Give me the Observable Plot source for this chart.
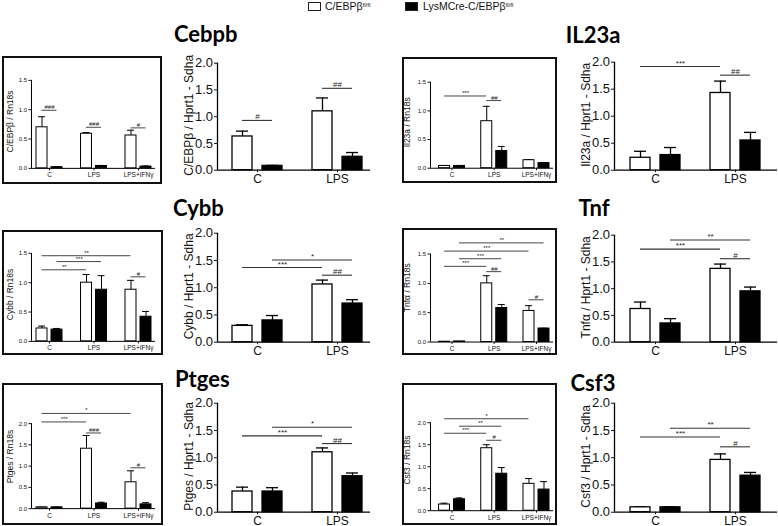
<!DOCTYPE html>
<html><head><meta charset="utf-8">
<script src="https://cdn.jsdelivr.net/npm/d3@7"></script>
<script src="https://cdn.jsdelivr.net/npm/@observablehq/plot@0.6"></script>
<style>
body{margin:0;background:#fff;}
#root{position:relative;width:778px;height:526px;overflow:hidden;font-family:"Liberation Sans",Arial,sans-serif;background:#fff;}
.title{position:absolute;font-family:Lato,"Open Sans",sans-serif;font-weight:700;font-size:22px;line-height:22px;white-space:nowrap;color:#000;}
.box{position:absolute;border:2px solid #111;box-sizing:border-box;}
.leg{position:absolute;font-size:10.5px;line-height:12px;white-space:nowrap;color:#111;}
.leg sup{font-size:6px;vertical-align:top;position:relative;top:-1px;}
.sw{position:absolute;width:13px;height:9px;box-sizing:border-box;border:1px solid #222;}
</style></head><body><div id="root"></div><script>
// ---------- data ----------
const groups3 = ["C", "LPS", "LPS+IFNγ"];
const groups2 = ["C", "LPS"];
const genotypes = ["C/EBPβ", "LysMCre-C/EBPβ"];
const ticksSmall15 = [0, 0.5, 1.0, 1.5];
const ticksSmall20 = [0, 0.5, 1.0, 1.5, 2.0];
const ticksLarge = [0, 0.5, 1.0, 1.5, 2.0];

// Cebpb
const cebpbRnWt = [0.70, 0.59, 0.56], cebpbRnWtErr = [0.18, 0.02, 0.09];
const cebpbRnKo = [0.02, 0.04, 0.03], cebpbRnKoErr = [0.005, 0.01, 0.01];
const cebpbRnSig = [{a:[0,0], b:[0,1], y:0.99, label:"###"}, {a:[1,0], b:[1,1], y:0.70, label:"###"}, {a:[2,0], b:[2,1], y:0.69, label:"#"}];
const cebpbHsWt = [0.63, 1.10], cebpbHsWtErr = [0.10, 0.25];
const cebpbHsKo = [0.08, 0.25], cebpbHsKoErr = [0.01, 0.08];
const cebpbHsSig = [{a:[0,0], b:[0,1], y:0.93, label:"#"}, {a:[1,0], b:[1,1], y:1.53, label:"##"}];

// Il23a
const il23RnWt = [0.04, 0.82, 0.14], il23RnWtErr = [0.005, 0.26, 0.01];
const il23RnKo = [0.04, 0.30, 0.09], il23RnKoErr = [0.005, 0.08, 0.005];
const il23RnSig = [{a:[0,0], b:[1,0], y:1.26, label:"***"}, {a:[1,0], b:[1,1], y:1.18, label:"##"}];
const il23HsWt = [0.23, 1.43], il23HsWtErr = [0.12, 0.22];
const il23HsKo = [0.28, 0.55], il23HsKoErr = [0.14, 0.15];
const il23HsSig = [{a:[0,0], b:[1,0], y:1.92, label:"***"}, {a:[1,0], b:[1,1], y:1.76, label:"##"}];

// Cybb
const cybbRnWt = [0.22, 1.00, 0.88], cybbRnWtErr = [0.04, 0.14, 0.16];
const cybbRnKo = [0.20, 0.88, 0.42], cybbRnKoErr = [0.02, 0.24, 0.09];
const cybbRnSig = [{a:[0,0], b:[2,0], y:1.46, label:"**"}, {a:[0,1], b:[1,1], y:1.36, label:"***"}, {a:[0,0], b:[1,0], y:1.22, label:"**"}, {a:[2,0], b:[2,1], y:1.10, label:"#"}];
const cybbHsWt = [0.30, 1.06], cybbHsWtErr = [0.02, 0.08];
const cybbHsKo = [0.40, 0.71], cybbHsKoErr = [0.09, 0.07];
const cybbHsSig = [{a:[0,1], b:[1,1], y:1.51, label:"*"}, {a:[0,0], b:[1,0], y:1.37, label:"***"}, {a:[1,0], b:[1,1], y:1.23, label:"##"}];

// Tnf
const tnfRnWt = [0.005, 1.00, 0.53], tnfRnWtErr = [0.0, 0.13, 0.09];
const tnfRnKo = [0.01, 0.58, 0.23], tnfRnKoErr = [0.002, 0.06, 0.005];
const tnfRnSig = [{a:[0,1], b:[2,1], y:1.69, label:"**"}, {a:[0,0], b:[2,0], y:1.55, label:"***"}, {a:[0,1], b:[1,1], y:1.42, label:"***"}, {a:[0,0], b:[1,0], y:1.29, label:"***"}, {a:[1,0], b:[1,1], y:1.20, label:"##"}, {a:[2,0], b:[2,1], y:0.72, label:"#"}];
const tnfHsWt = [0.62, 1.37], tnfHsWtErr = [0.13, 0.09];
const tnfHsKo = [0.35, 0.95], tnfHsKoErr = [0.09, 0.08];
const tnfHsSig = [{a:[0,1], b:[1,1], y:1.91, label:"**"}, {a:[0,0], b:[1,0], y:1.74, label:"***"}, {a:[1,0], b:[1,1], y:1.56, label:"#"}];

// Ptges
const ptgesRnWt = [0.03, 1.41, 0.62], ptgesRnWtErr = [0.005, 0.31, 0.27];
const ptgesRnKo = [0.03, 0.12, 0.10], ptgesRnKoErr = [0.005, 0.03, 0.04];
const ptgesRnSig = [{a:[0,0], b:[2,0], y:2.24, label:"*"}, {a:[0,0], b:[1,0], y:2.04, label:"***"}, {a:[1,0], b:[1,1], y:1.78, label:"###"}, {a:[2,0], b:[2,1], y:0.96, label:"#"}];
const ptgesHsWt = [0.38, 1.10], ptgesHsWtErr = [0.08, 0.08];
const ptgesHsKo = [0.38, 0.66], ptgesHsKoErr = [0.07, 0.06];
const ptgesHsSig = [{a:[0,1], b:[1,1], y:1.56, label:"*"}, {a:[0,0], b:[1,0], y:1.40, label:"***"}, {a:[1,0], b:[1,1], y:1.26, label:"##"}];

// Csf3
const csf3RnWt = [0.14, 1.42, 0.61], csf3RnWtErr = [0.03, 0.08, 0.12];
const csf3RnKo = [0.26, 0.84, 0.48], csf3RnKoErr = [0.03, 0.14, 0.18];
const csf3RnSig = [{a:[0,0], b:[2,0], y:2.09, label:"*"}, {a:[0,1], b:[1,1], y:1.92, label:"**"}, {a:[0,0], b:[1,0], y:1.76, label:"***"}, {a:[1,0], b:[1,1], y:1.60, label:"#"}];
const csf3HsWt = [0.09, 0.96], csf3HsWtErr = [0.01, 0.11];
const csf3HsKo = [0.09, 0.67], csf3HsKoErr = [0.01, 0.06];
const csf3HsSig = [{a:[0,1], b:[1,1], y:1.54, label:"**"}, {a:[0,0], b:[1,0], y:1.38, label:"***"}, {a:[1,0], b:[1,1], y:1.20, label:"#"}];

// ---------- layout ----------
const root = document.getElementById("root");
const SMALL = {off: 7.5, bw: 11, cap: 3.5, sw: 1, tick: 2.5, tickPad: 2, tickFont: 6, catFont: 6.5, catTick: 2.5, catPad: 2, labFont: 8.5, labOff: 21, sigFont: 6, axW: 1};
const LARGE = {off: 15, bw: 20, cap: 6, sw: 1.3, tick: 3, tickPad: 1.5, tickFont: 13, catFont: 12, catTick: 2.5, catPad: 2, labFont: 12, labOff: 28, sigFont: 8, axW: 1.3};
const LS = {axX0: 31, axX1: 155, c0: 49, cN: 138};
const RS = {axX0: 430, axX1: 553, c0: 451.5, cN: 536, labOff: 23};
const LL = {axX0: 217, axX1: 370, c0: 257, cN: 337};
const RL = {axX0: 614, axX1: 777, c0: 655, cN: 735, labOff: 28};

function panel(spec) {
  const {L, cats, wt, wtErr, ko, koErr, sig, ylabel, yticks, ymax, small, y0, yTop} = spec;
  const st = small ? SMALL : LARGE;
  const n = cats.length;
  const ppx = (L.cN - L.c0) / (n - 1);
  const xd = [(L.axX0 - L.c0) / ppx, (L.axX1 - L.c0) / ppx];
  const topTick = yticks[yticks.length - 1];
  const ppy = (y0 - yTop) / topTick;
  const plotH = ymax * ppy;
  const mT = 14, mB = 26, mL = 46, mR = 6;
  const off = st.off / ppx, hw = st.bw / 2 / ppx, cap = st.cap / ppx;
  const rows = [];
  [wt, ko].forEach((vals, g) => vals.forEach((v, i) => rows.push({i, g, v, e: (g ? koErr : wtErr)[i], x: i + (g ? off : -off)})));
  const pos = ([i, g]) => i + (g ? off : -off);
  const svg = Plot.plot({
    width: mL + (L.axX1 - L.axX0) + mR,
    height: mT + plotH + mB,
    marginLeft: mL, marginRight: mR, marginTop: mT, marginBottom: mB,
    x: {type: "linear", domain: xd},
    y: {type: "linear", domain: [0, ymax]},
    style: {background: "transparent", overflow: "visible", fontFamily: "'Liberation Sans', Arial, sans-serif", color: "#111"},
    marks: [
      Plot.ruleX(rows, {x: "x", y1: "v", y2: d => d.v + d.e, stroke: "#000", strokeWidth: st.sw}),
      Plot.ruleY(rows.filter(d => d.e > 0.003), {y: d => d.v + d.e, x1: d => d.x - cap, x2: d => d.x + cap, stroke: "#000", strokeWidth: st.sw}),
      Plot.rectY(rows.filter(d => d.g === 0), {x1: d => d.x - hw, x2: d => d.x + hw, y1: 0, y2: "v", fill: "#fff", stroke: "#000", strokeWidth: st.sw}),
      Plot.rectY(rows.filter(d => d.g === 1), {x1: d => d.x - hw, x2: d => d.x + hw, y1: 0, y2: "v", fill: "#000", stroke: "#000", strokeWidth: st.sw}),
      Plot.ruleY(sig, {y: "y", x1: d => pos(d.a), x2: d => pos(d.b), stroke: "#333", strokeWidth: small ? 0.9 : 1.1}),
      Plot.text(sig, {x: d => (pos(d.a) + pos(d.b)) / 2, y: "y", text: "label", fontSize: st.sigFont, lineAnchor: "bottom", dy: -1, fill: "#222"}),
      Plot.ruleX([xd[0]], {y1: 0, y2: topTick, stroke: "#000", strokeWidth: st.axW}),
      Plot.ruleY([0], {x1: xd[0], x2: xd[1], stroke: "#000", strokeWidth: st.axW}),
      Plot.axisY({ticks: yticks, tickFormat: d3.format(".1f"), tickSize: st.tick, tickPadding: st.tickPad, fontSize: st.tickFont, label: null}),
      Plot.axisX({ticks: d3.range(n), tickFormat: i => cats[i], tickSize: st.catTick, tickPadding: st.catPad, fontSize: st.catFont, label: null}),
      Plot.text([ylabel], {text: d => d, frameAnchor: "left", textAnchor: "middle", lineAnchor: "middle", rotate: -90, dx: -(L.labOff || st.labOff), fontSize: st.labFont, fill: "#111"})
    ]
  });
  svg.style.position = "absolute";
  svg.style.left = (L.axX0 - mL) + "px";
  svg.style.top = (y0 - plotH - mT) + "px";
  root.appendChild(svg);
}

function box(x0, y0, x1, y1) {
  const d = document.createElement("div");
  d.className = "box";
  Object.assign(d.style, {left: x0 + "px", top: y0 + "px", width: (x1 - x0) + "px", height: (y1 - y0) + "px"});
  root.appendChild(d);
}
function title(text, x, baseline, center) {
  const d = document.createElement("div");
  d.className = "title";
  d.textContent = text;
  d.style.top = (baseline - 18) + "px";
  if (center) { d.style.left = x + "px"; d.style.transform = "translateX(-50%)"; }
  else d.style.left = x + "px";
  root.appendChild(d);
}

// legend
root.insertAdjacentHTML("beforeend",
  `<div class="sw" style="left:308px;top:2px;background:#fff"></div>` +
  `<div class="leg" style="left:325px;top:0px">${genotypes[0]}<sup>fl/fl</sup></div>` +
  `<div class="sw" style="left:405px;top:2px;background:#000"></div>` +
  `<div class="leg" style="left:423px;top:0px">${genotypes[1]}<sup>fl/fl</sup></div>`);

// boxes
box(2, 56, 162, 184); box(402, 57, 557, 183);
box(2, 230, 163, 355); box(402, 228, 557, 355);
box(2, 383, 163, 525); box(402, 383, 557, 525);

// titles
title("Cebpb", 174, 41, false); title("IL23a", 593, 42, true);
title("Cybb", 173, 215, false); title("Tnf", 594, 215, true);
title("Ptges", 175, 386, false); title("Csf3", 593, 390, true);

// panels
panel({L: LS, small: true, cats: groups3, wt: cebpbRnWt, wtErr: cebpbRnWtErr, ko: cebpbRnKo, koErr: cebpbRnKoErr, sig: cebpbRnSig, ylabel: "C/EBPβ / Rn18s", yticks: ticksSmall15, ymax: 1.6, y0: 168, yTop: 80});
panel({L: LL, small: false, cats: groups2, wt: cebpbHsWt, wtErr: cebpbHsWtErr, ko: cebpbHsKo, koErr: cebpbHsKoErr, sig: cebpbHsSig, ylabel: "C/EBPβ / Hprt1 - Sdha", yticks: ticksLarge, ymax: 2.05, y0: 170, yTop: 63});
panel({L: RS, small: true, cats: groups3, wt: il23RnWt, wtErr: il23RnWtErr, ko: il23RnKo, koErr: il23RnKoErr, sig: il23RnSig, ylabel: "Il23a / Rn18s", yticks: ticksSmall15, ymax: 1.6, y0: 168, yTop: 82});
panel({L: RL, small: false, cats: groups2, wt: il23HsWt, wtErr: il23HsWtErr, ko: il23HsKo, koErr: il23HsKoErr, sig: il23HsSig, ylabel: "Il23a / Hprt1 - Sdha", yticks: ticksLarge, ymax: 2.05, y0: 170, yTop: 62});

panel({L: LS, small: true, cats: groups3, wt: cybbRnWt, wtErr: cybbRnWtErr, ko: cybbRnKo, koErr: cybbRnKoErr, sig: cybbRnSig, ylabel: "Cybb / Rn18s", yticks: ticksSmall15, ymax: 1.6, y0: 341, yTop: 253});
panel({L: LL, small: false, cats: groups2, wt: cybbHsWt, wtErr: cybbHsWtErr, ko: cybbHsKo, koErr: cybbHsKoErr, sig: cybbHsSig, ylabel: "Cybb / Hprt1 - Sdha", yticks: ticksLarge, ymax: 2.05, y0: 342, yTop: 233});
panel({L: RS, small: true, cats: groups3, wt: tnfRnWt, wtErr: tnfRnWtErr, ko: tnfRnKo, koErr: tnfRnKoErr, sig: tnfRnSig, ylabel: "Tnfα / Rn18s", yticks: ticksSmall15, ymax: 1.85, y0: 342, yTop: 254});
panel({L: RL, small: false, cats: groups2, wt: tnfHsWt, wtErr: tnfHsWtErr, ko: tnfHsKo, koErr: tnfHsKoErr, sig: tnfHsSig, ylabel: "Tnfα / Hprt1 - Sdha", yticks: ticksLarge, ymax: 2.05, y0: 342, yTop: 235});

panel({L: LS, small: true, cats: groups3, wt: ptgesRnWt, wtErr: ptgesRnWtErr, ko: ptgesRnKo, koErr: ptgesRnKoErr, sig: ptgesRnSig, ylabel: "Ptges / Rn18s", yticks: ticksSmall20, ymax: 2.45, y0: 508, yTop: 423});
panel({L: LL, small: false, cats: groups2, wt: ptgesHsWt, wtErr: ptgesHsWtErr, ko: ptgesHsKo, koErr: ptgesHsKoErr, sig: ptgesHsSig, ylabel: "Ptges / Hprt1 - Sdha", yticks: ticksLarge, ymax: 2.05, y0: 512, yTop: 403});
panel({L: RS, small: true, cats: groups3, wt: csf3RnWt, wtErr: csf3RnWtErr, ko: csf3RnKo, koErr: csf3RnKoErr, sig: csf3RnSig, ylabel: "Csf3 / Rn18s", yticks: ticksSmall20, ymax: 2.3, y0: 510, yTop: 422});
panel({L: RL, small: false, cats: groups2, wt: csf3HsWt, wtErr: csf3HsWtErr, ko: csf3HsKo, koErr: csf3HsKoErr, sig: csf3HsSig, ylabel: "Csf3 / Hprt1 - Sdha", yticks: ticksLarge, ymax: 2.05, y0: 512, yTop: 403});
</script></body></html>
